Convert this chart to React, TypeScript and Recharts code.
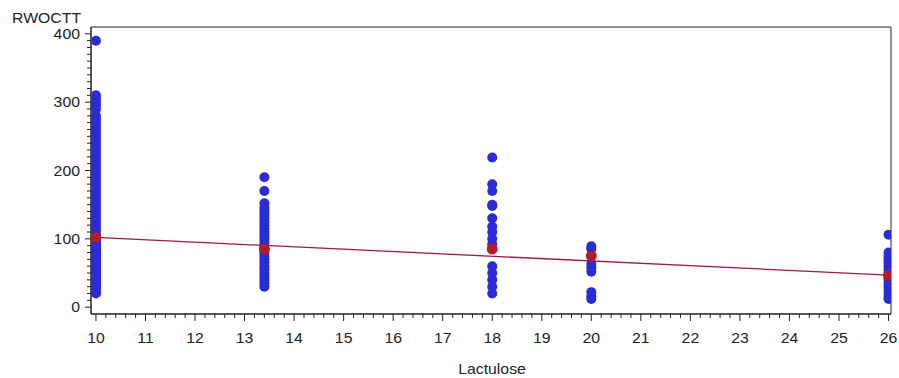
import { ComposedChart, Scatter, Line, XAxis, YAxis, ReferenceArea } from 'recharts';

// observed values per lactulose dose
const lact10 = [20, 22, 25, 28, 30, 33, 35, 38, 40, 43, 45, 48, 50, 53, 55, 58, 60, 63, 65, 68, 70, 73, 75, 78, 80, 83, 85, 88, 90, 93, 95, 98, 100, 105, 110, 115, 120, 125, 130, 135, 140, 145, 150, 155, 160, 165, 170, 175, 180, 185, 190, 195, 200, 205, 210, 215, 220, 225, 230, 235, 240, 245, 250, 255, 260, 265, 270, 275, 280, 290, 295, 300, 305, 310, 390];
const lact13 = [30, 35, 40, 45, 50, 55, 60, 65, 70, 75, 80, 85, 90, 95, 100, 105, 110, 115, 120, 125, 130, 135, 140, 145, 152, 170, 190];
const lact18 = [20, 30, 40, 50, 60, 92, 100, 110, 118, 130, 148, 150, 170, 180, 219];
const lact20 = [12, 16, 22, 52, 58, 63, 85, 89];
const lact26 = [12, 15, 20, 25, 30, 35, 40, 45, 50, 55, 60, 65, 70, 75, 80, 106];

const doses = [10, 13.4, 18, 20, 26];
const means = [102, 85, 85, 75, 46];
const fitX = [10, 26];
const fitY = [102, 47];

const xMajor = [10, 11, 12, 13, 14, 15, 16, 17, 18, 19, 20, 21, 22, 23, 24, 25, 26];
const yMajor = [0, 100, 200, 300, 400];

const xTicks: number[] = [];
for (let i = 0; i <= 80; i++) xTicks.push(Math.round((10 + i * 0.2) * 10) / 10);
const yTicks: number[] = [];
for (let i = 0; i <= 40; i++) yTicks.push(i * 10);

const groups = [lact10, lact13, lact18, lact20, lact26];
const points = groups.flatMap((vals, i) => vals.map((v) => ({ x: doses[i], y: v })));
const meanPoints = doses.map((d, i) => ({ x: doses[i], y: means[i] }));
const fitData = fitX.map((x, i) => ({ x, y: fitY[i] }));

const FONT = '"Liberation Sans", Arial, sans-serif';

// the original text is a little wider than Arial, so stretch it sideways
const Label = ({ x, y, anchor, children }: { x: number; y: number; anchor: 'start' | 'middle' | 'end'; children: any }) => (
  <text
    transform={`translate(${x},${y}) scale(1.13,1)`}
    textAnchor={anchor}
    fontSize={14}
    fill="#222"
    fontFamily={FONT}
  >
    {children}
  </text>
);

const XTick = (props: any) => {
  const { x, y, payload } = props;
  const major = xMajor.includes(payload.value);
  return (
    <g>
      <line x1={x} x2={x} y1={y} y2={y + (major ? 7 : 4)} stroke="#222" />
      {major && <Label x={x} y={y + 29} anchor="middle">{payload.value}</Label>}
    </g>
  );
};

const YTick = (props: any) => {
  const { x, y, payload } = props;
  const major = yMajor.includes(payload.value);
  return (
    <g>
      <line x1={x} x2={x - (major ? 6 : 4)} y1={y} y2={y} stroke="#222" />
      {major && <Label x={x - 11} y={y + 5} anchor="end">{payload.value}</Label>}
    </g>
  );
};

const dot = (color: string, r: number) => (props: any) =>
  <circle cx={props.cx} cy={props.cy} r={r} fill={color} />;

export default function App() {
  return (
    <div style={{ position: 'absolute', left: 0, top: 0, width: 899, height: 378, background: '#fff' }}>
      <ComposedChart width={899} height={378} margin={{ top: 27, right: 8, bottom: 0, left: 31 }}>
        <XAxis
          type="number"
          dataKey="x"
          domain={[9.9, 26.05]}
          ticks={xTicks}
          interval={0}
          tick={<XTick />}
          tickLine={false}
          tickSize={0}
          tickMargin={0}
          height={64}
          stroke="#222"
          allowDataOverflow
        />
        <YAxis
          type="number"
          dataKey="y"
          domain={[-10, 410]}
          ticks={yTicks}
          interval={0}
          tick={<YTick />}
          tickLine={false}
          tickSize={0}
          tickMargin={0}
          width={60}
          stroke="#222"
          allowDataOverflow
        />
        <ReferenceArea x1={9.9} x2={26.05} y1={-10} y2={410} fill="none" stroke="#222" ifOverflow="visible" />
        <Scatter data={points} shape={dot('#2b2bd8', 5)} isAnimationActive={false} />
        <Line data={fitData} dataKey="y" type="linear" stroke="#9a1c48" strokeWidth={1.3} dot={false} isAnimationActive={false} />
        <Scatter data={meanPoints} shape={dot('#b01c2c', 5.5)} isAnimationActive={false} />
        <Label x={12} y={23} anchor="start">RWOCTT</Label>
        <Label x={492} y={374} anchor="middle">Lactulose</Label>
      </ComposedChart>
    </div>
  );
}
